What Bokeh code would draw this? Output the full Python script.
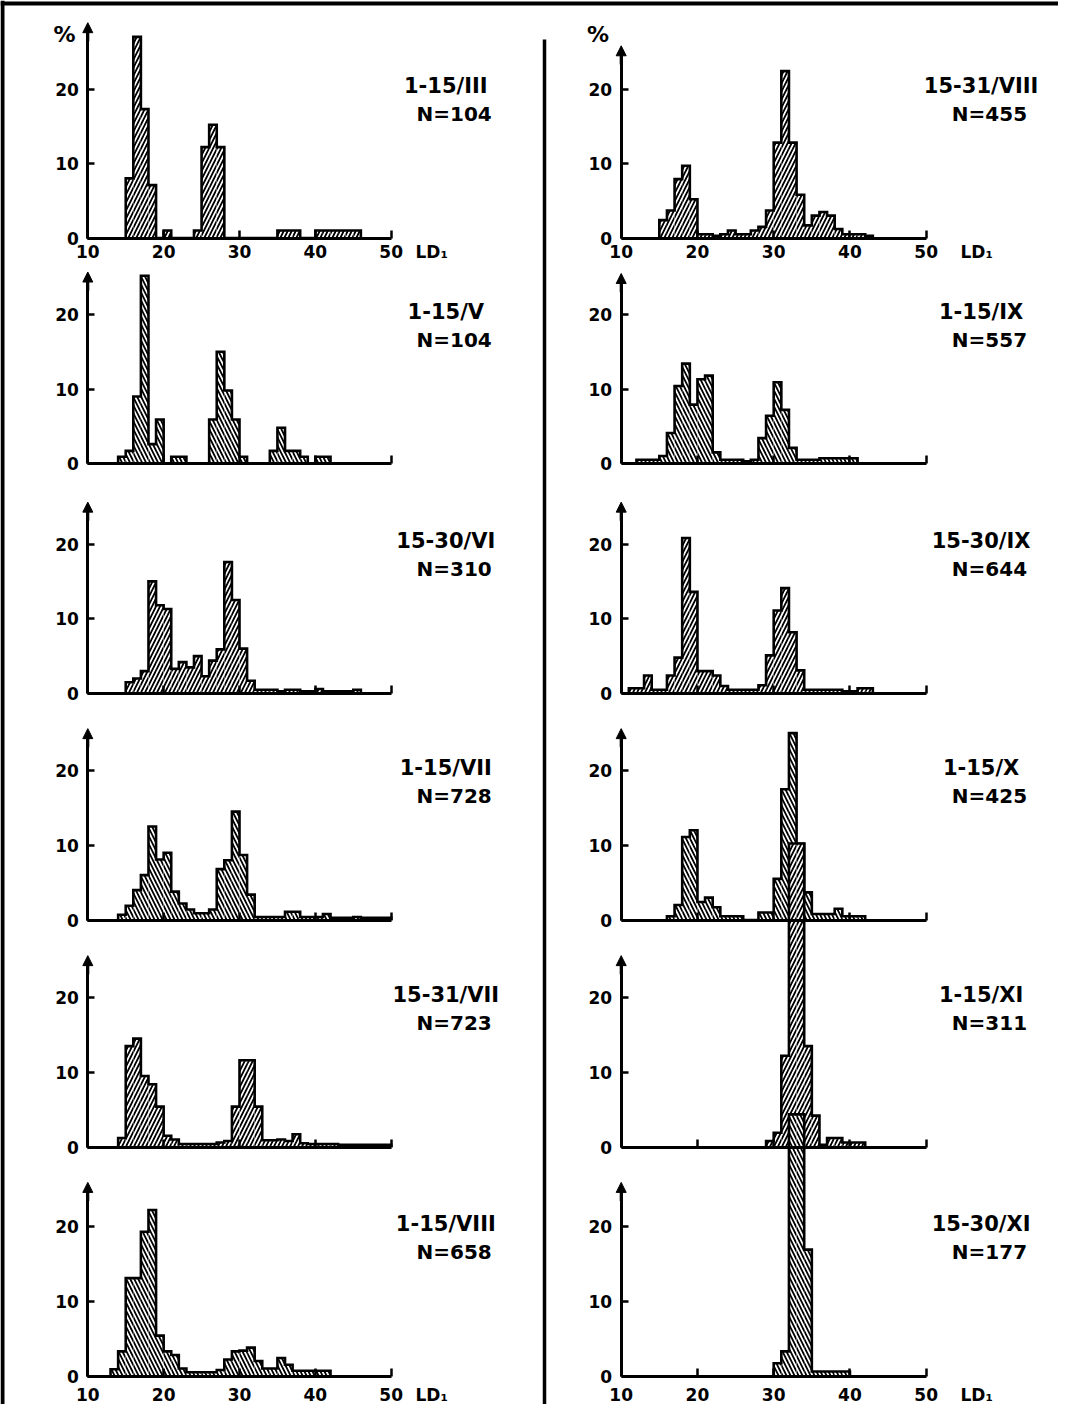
import numpy as np
from bokeh.plotting import figure
from bokeh.models import Range1d, LinearAxis, FixedTicker, Arrow, NormalHead
from bokeh.core.properties import value
from bokeh.embed import file_html
from bokeh.resources import INLINE

# ---------------- data: % of specimens per 1-unit LD1 class ----------------
DATES_LEFT = ["1-15/III", "1-15/V", "15-30/VI", "1-15/VII", "15-31/VII", "1-15/VIII"]
N_LEFT = [104, 104, 310, 728, 723, 658]
DATES_RIGHT = ["15-31/VIII", "1-15/IX", "15-30/IX", "1-15/X", "1-15/XI", "15-30/XI"]
N_RIGHT = [455, 557, 644, 425, 311, 177]

X_TICKS = [10, 20, 30, 40, 50]
Y_TICKS = [0, 10, 20]

# first LD1 class (left edge) and percentages of successive classes
START_1_15_III = 15
PCT_1_15_III = [8.0, 27.0, 17.3, 7.1, 0, 1.0, 0, 0, 0, 1.0, 12.2, 15.2, 12.2, 0, 0, 0, 0, 0, 0, 0,
                1.0, 1.0, 1.0, 0, 0, 1.0, 1.0, 1.0, 1.0, 1.0, 1.0]
START_1_15_V = 14
PCT_1_15_V = [0.9, 1.7, 9.0, 25.2, 2.6, 5.9, 0, 0.9, 0.9, 0, 0, 0, 5.9, 15.0, 9.8, 5.9, 0.9, 0, 0, 0,
              1.7, 4.8, 1.7, 1.7, 0.9, 0, 0.9, 0.9]
START_15_30_VI = 15
PCT_15_30_VI = [1.5, 2.0, 3.0, 15.0, 11.8, 11.3, 3.3, 4.2, 3.5, 5.0, 2.3, 4.4, 5.9, 17.6, 12.5, 6.0,
                1.7, 0.5, 0.5, 0.5, 0.3, 0.5, 0.5, 0.3, 0.3, 0.6, 0.3, 0.3, 0.3, 0.3, 0.5]
START_1_15_VII = 14
PCT_1_15_VII = [0.7, 1.9, 4.0, 6.0, 12.5, 8.1, 9.0, 3.8, 2.2, 1.4, 0.9, 0.9, 1.4, 6.8, 8.0, 14.5,
                8.7, 3.4, 0.4, 0.4, 0.4, 0.4, 1.1, 1.1, 0.4, 0.4, 0.4, 0.8, 0.3, 0.3, 0.3, 0.4,
                0.3, 0.3, 0.3, 0.3]
START_15_31_VII = 14
PCT_15_31_VII = [1.2, 13.5, 14.5, 9.5, 8.4, 5.4, 1.5, 1.0, 0.4, 0.4, 0.4, 0.4, 0.4, 0.6, 0.8, 5.4,
                 11.6, 11.6, 5.4, 0.9, 0.9, 1.0, 0.8, 1.7, 0.5, 0.4, 0.4, 0.4, 0.4, 0.3, 0.3, 0.3,
                 0.3, 0.3, 0.3, 0.3]
START_1_15_VIII = 13
PCT_1_15_VIII = [0.9, 3.3, 13.1, 13.1, 19.3, 22.2, 5.4, 3.3, 2.8, 1.0, 0.5, 0.5, 0.5, 0.5, 0.8, 2.2,
                 3.3, 3.4, 3.8, 2.0, 1.0, 1.0, 2.4, 1.5, 0.7, 0.7, 0.7, 0.7, 0.7]

START_15_31_VIII = 15
PCT_15_31_VIII = [2.4, 3.7, 7.9, 9.7, 5.2, 0.5, 0.5, 0.3, 0.5, 1.0, 0.5, 0.5, 1.0, 1.5, 3.7, 12.8,
                  22.4, 12.8, 5.8, 1.7, 3.0, 3.5, 3.0, 1.2, 0.5, 0.5, 0.5, 0.3]
START_1_15_IX = 12
PCT_1_15_IX = [0.5, 0.5, 0.5, 1.0, 4.1, 10.4, 13.4, 7.9, 11.3, 11.8, 1.5, 0.5, 0.5, 0.5, 0.3, 0.5,
               3.4, 6.4, 10.9, 7.2, 2.1, 0.5, 0.5, 0.5, 0.7, 0.7, 0.7, 0.7, 0.7]
START_15_30_IX = 11
PCT_15_30_IX = [0.7, 0.7, 2.4, 0.5, 0.5, 2.4, 4.8, 20.8, 13.6, 3.0, 3.0, 2.4, 1.0, 0.5, 0.5, 0.5,
                0.5, 1.1, 5.1, 11.1, 14.1, 8.2, 3.1, 0.5, 0.5, 0.5, 0.5, 0.5, 0.3, 0.3, 0.7, 0.7]
START_1_15_X = 16
PCT_1_15_X = [0.5, 2.0, 11.1, 12.0, 2.4, 3.0, 1.7, 0.5, 0.5, 0.5, 0, 0, 1.0, 1.0, 5.5, 17.5, 25.0,
              10.2, 3.7, 0.8, 0.8, 0.8, 1.5, 0.5, 0.5, 0.5]
START_1_15_XI = 29
PCT_1_15_XI = [0.8, 1.9, 12.2, 40.6, 40.6, 13.5, 4.2, 0.3, 1.2, 1.2, 0.6, 0.6, 0.6]
START_15_30_XI = 30
PCT_15_30_XI = [1.7, 3.3, 35.0, 35.0, 16.9, 0.6, 0.6, 0.6, 0.6, 0.6]

LEFT = [(START_1_15_III, PCT_1_15_III), (START_1_15_V, PCT_1_15_V), (START_15_30_VI, PCT_15_30_VI),
        (START_1_15_VII, PCT_1_15_VII), (START_15_31_VII, PCT_15_31_VII), (START_1_15_VIII, PCT_1_15_VIII)]
RIGHT = [(START_15_31_VIII, PCT_15_31_VIII), (START_1_15_IX, PCT_1_15_IX), (START_15_30_IX, PCT_15_30_IX),
         (START_1_15_X, PCT_1_15_X), (START_1_15_XI, PCT_1_15_XI), (START_15_30_XI, PCT_15_30_XI)]

# ---------------- layout ----------------
W, H = 1058, 1404
PX0, PY0 = 1, 1                                      # where the canvas appears in the picture
COL_PX = [(88.3, 391.7), (621.7, 926.7)]            # picture x of LD1 = 10 and 50
ROW_PX = [(238.5, 89.5), (464.0, 315.0), (694.0, 544.5),
          (920.5, 771.0), (1147.5, 998.0), (1376.5, 1227.0)]   # picture y of 0 % and 20 %
COL_NAMES = ["default", "R"]
ROW_NAMES = ["default", "r1", "r2", "r3", "r4", "r5"]
HATCH = ["/", "\\", "/", "\\", "/", "\\"]
FONT = "DejaVu Sans"


def xs_scale(c):
    a, b = COL_PX[c]
    return (b - a) / 40.0


def ys_scale(r):
    a, b = ROW_PX[r]
    return (a - b) / 20.0


def px_x(c, px):
    return 10 + (px - COL_PX[c][0]) / xs_scale(c)


def px_y(r, py):
    return (ROW_PX[r][0] - py) / ys_scale(r)


def x_range_for(c):
    return Range1d(px_x(c, PX0), px_x(c, PX0 + W))


def y_range_for(r):
    return Range1d(px_y(r, PY0 + H), px_y(r, PY0))


p = figure(width=W, height=H, output_backend="svg", toolbar_location=None,
           x_range=x_range_for(0), y_range=y_range_for(0),
           x_axis_location=None, y_axis_location=None, min_border=0,
           outline_line_color=None, title=None)
p.xgrid.grid_line_color = None
p.ygrid.grid_line_color = None
p.extra_x_ranges = {"R": x_range_for(1)}
p.extra_y_ranges = {ROW_NAMES[r]: y_range_for(r) for r in range(1, 6)}
p.background_fill_color = "white"

# frame border lines and column divider
p.segment(x0=[px_x(0, PX0)], x1=[px_x(0, PX0 + W)], y0=[px_y(0, 4)], y1=[px_y(0, 4)],
          line_color="black", line_width=4)
p.segment(x0=[px_x(0, 3)], x1=[px_x(0, 3)], y0=[px_y(0, PY0)], y1=[px_y(0, PY0 + H)],
          line_color="black", line_width=4)
p.segment(x0=[px_x(0, 545)], x1=[px_x(0, 545)], y0=[px_y(0, 40)], y1=[px_y(0, PY0 + H)],
          line_color="black", line_width=3.5)

ARROW_TOP = [[28.9, 25.7, 25.6, 25.6, 25.6, 25.9],
             [25.8, 25.5, 25.6, 25.6, 25.6, 25.9]]
TXT = dict(text_font=value(FONT), text_font_style="bold", text_color="black")

for r in range(6):
    for c in range(2):
        xr, yr = COL_NAMES[c], ROW_NAMES[r]
        start, pct = (LEFT if c == 0 else RIGHT)[r]
        date = (DATES_LEFT if c == 0 else DATES_RIGHT)[r]
        n = (N_LEFT if c == 0 else N_RIGHT)[r]
        vals = np.array(pct, dtype=float)
        lefts = start + np.arange(len(vals))

        p.quad(left=lefts, right=lefts + 1, bottom=np.zeros(len(vals)), top=vals,
               fill_color="white", line_color=None, hatch_pattern=HATCH[r],
               hatch_color="black", hatch_weight=1.8, hatch_scale=8,
               x_range_name=xr, y_range_name=yr)
        edges = start + np.arange(len(vals) + 1)
        ox = np.repeat(edges, 2)
        oy = np.concatenate([[0.0], np.repeat(vals, 2), [0.0]])
        p.line(ox, oy, line_color="black", line_width=2.6, line_join="miter",
               x_range_name=xr, y_range_name=yr)

        top = ARROW_TOP[c][r]
        ya = LinearAxis(x_range_name=xr, y_range_name=yr, fixed_location=10,
                        ticker=FixedTicker(ticks=Y_TICKS), bounds=(0, top - 1.0),
                        axis_line_width=3, axis_line_color="black",
                        major_tick_in=7, major_tick_out=0, major_tick_line_width=2.5,
                        minor_tick_line_color=None, major_label_standoff=9,
                        major_label_text_font=FONT, major_label_text_font_style="bold",
                        major_label_text_font_size="17px", major_label_text_color="black")
        p.add_layout(ya, "left")
        xa = LinearAxis(x_range_name=xr, y_range_name=yr, fixed_location=0,
                        ticker=FixedTicker(ticks=X_TICKS), bounds=(10, 50),
                        axis_line_width=3, axis_line_color="black",
                        major_tick_in=8, major_tick_out=0, major_tick_line_width=2.5,
                        minor_tick_line_color=None,
                        major_label_standoff=7 if r == 0 else 12,
                        major_label_text_font=FONT, major_label_text_font_style="bold",
                        major_label_text_font_size="17px", major_label_text_color="black")
        if r not in (0, 5):
            xa.major_label_text_color = None
        p.add_layout(xa, "below")

        p.add_layout(Arrow(end=NormalHead(size=10, fill_color="black", line_color="black", line_width=1),
                           x_start=10, y_start=top - 2.5, x_end=10, y_end=top,
                           line_width=3, line_color="black", x_range_name=xr, y_range_name=yr))

        p.text(x=[57.2], y=[20.4], text=[date], text_font_size="21px", text_align="center",
               text_baseline="middle", x_range_name=xr, y_range_name=yr, **TXT)
        p.text(x=[58.3], y=[16.6], text=[f"N={n}"], text_font_size="20px", text_align="center",
               text_baseline="middle", x_range_name=xr, y_range_name=yr, **TXT)

        if r == 0:
            p.text(x=[8.4], y=[27.3], text=["%"], text_font_size="22px", text_align="right",
                   text_baseline="middle", x_range_name=xr, y_range_name=yr, **TXT)
        if r in (0, 5):
            ld_y = px_y(r, ROW_PX[r][0] + (14 if r == 0 else 19))
            p.text(x=[53.2 if c == 0 else 54.5], y=[ld_y], text=["LD₁"], text_font_size="17px",
                   text_align="left", text_baseline="middle", x_range_name=xr, y_range_name=yr, **TXT)

open("out.html", "w").write(file_html(p, INLINE))
